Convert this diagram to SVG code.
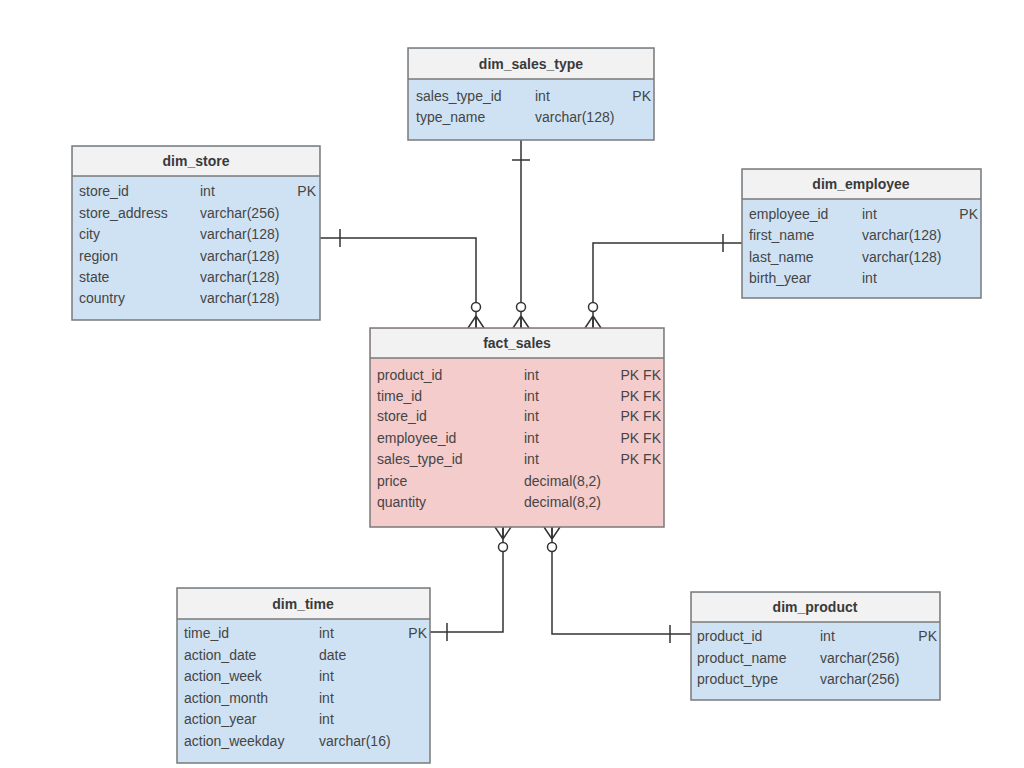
<svg xmlns="http://www.w3.org/2000/svg" width="1024" height="768" viewBox="0 0 1024 768">
<style>
.box{stroke:#7a7a7a;stroke-width:1.5}
.hdr{fill:#f2f2f2}
.dim{fill:#cfe2f3}
.fact{fill:#f4cccc}
.sep{stroke:#7a7a7a;stroke-width:1.5}
.title{font-family:"Liberation Sans",Arial,sans-serif;font-size:14px;font-weight:bold;fill:#3a3a3a;text-anchor:middle}
.t{font-family:"Liberation Sans",Arial,sans-serif;font-size:14px;fill:#454545}
.k{font-family:"Liberation Sans",Arial,sans-serif;font-size:14px;fill:#454545;text-anchor:end}
.c{fill:none;stroke:#333;stroke-width:1.5}
.o{fill:#fff;stroke:#333;stroke-width:1.5}
</style>
<rect width="1024" height="768" fill="#ffffff"/>

<g id="connectors">
  <!-- dim_store -> fact_sales -->
  <polyline class="c" points="320,238 476,238 476,328"/>
  <line class="c" x1="340" y1="229" x2="340" y2="247"/>
  <path class="c" d="M476,316 L468,328 M476,316 L476,328 M476,316 L484,328"/>
  <circle class="o" cx="476" cy="307" r="4.5"/>
  <!-- dim_sales_type -> fact_sales -->
  <line class="c" x1="521" y1="140" x2="521" y2="328"/>
  <line class="c" x1="512" y1="160" x2="530" y2="160"/>
  <path class="c" d="M521,316 L513,328 M521,316 L521,328 M521,316 L529,328"/>
  <circle class="o" cx="521" cy="307" r="4.5"/>
  <!-- dim_employee -> fact_sales -->
  <polyline class="c" points="742,243 593,243 593,328"/>
  <line class="c" x1="723" y1="234" x2="723" y2="252"/>
  <path class="c" d="M593,316 L585,328 M593,316 L593,328 M593,316 L601,328"/>
  <circle class="o" cx="593" cy="307" r="4.5"/>
  <!-- dim_time -> fact_sales -->
  <polyline class="c" points="430,632 503,632 503,527"/>
  <line class="c" x1="447" y1="623" x2="447" y2="641"/>
  <path class="c" d="M503,539 L495,527 M503,539 L503,527 M503,539 L511,527"/>
  <circle class="o" cx="503" cy="547" r="4.5"/>
  <!-- dim_product -> fact_sales -->
  <polyline class="c" points="691,634 552,634 552,527"/>
  <line class="c" x1="670" y1="625" x2="670" y2="643"/>
  <path class="c" d="M552,539 L544,527 M552,539 L552,527 M552,539 L560,527"/>
  <circle class="o" cx="552" cy="547" r="4.5"/>
</g>

<g id="dim_sales_type">
  <rect class="box dim" x="408" y="48" width="246" height="92"/>
  <rect class="hdr" x="409" y="49" width="244" height="30"/>
  <line class="sep" x1="408" y1="79" x2="654" y2="79"/>
  <text class="title" x="531" y="69">dim_sales_type</text>
  <text class="t" x="416" y="101">sales_type_id</text><text class="t" x="535" y="101">int</text><text class="k" x="651" y="101">PK</text>
  <text class="t" x="416" y="122">type_name</text><text class="t" x="535" y="122">varchar(128)</text>
</g>

<g id="dim_store">
  <rect class="box dim" x="72" y="146" width="248" height="174"/>
  <rect class="hdr" x="73" y="147" width="246" height="29"/>
  <line class="sep" x1="72" y1="176" x2="320" y2="176"/>
  <text class="title" x="196" y="166">dim_store</text>
  <text class="t" x="79" y="196">store_id</text><text class="t" x="200" y="196">int</text><text class="k" x="316" y="196">PK</text>
  <text class="t" x="79" y="218">store_address</text><text class="t" x="200" y="218">varchar(256)</text>
  <text class="t" x="79" y="239">city</text><text class="t" x="200" y="239">varchar(128)</text>
  <text class="t" x="79" y="261">region</text><text class="t" x="200" y="261">varchar(128)</text>
  <text class="t" x="79" y="282">state</text><text class="t" x="200" y="282">varchar(128)</text>
  <text class="t" x="79" y="303">country</text><text class="t" x="200" y="303">varchar(128)</text>
</g>

<g id="dim_employee">
  <rect class="box dim" x="742" y="169" width="239" height="129"/>
  <rect class="hdr" x="743" y="170" width="237" height="29"/>
  <line class="sep" x1="742" y1="199" x2="981" y2="199"/>
  <text class="title" x="861" y="189">dim_employee</text>
  <text class="t" x="749" y="219">employee_id</text><text class="t" x="862" y="219">int</text><text class="k" x="978" y="219">PK</text>
  <text class="t" x="749" y="240">first_name</text><text class="t" x="862" y="240">varchar(128)</text>
  <text class="t" x="749" y="262">last_name</text><text class="t" x="862" y="262">varchar(128)</text>
  <text class="t" x="749" y="283">birth_year</text><text class="t" x="862" y="283">int</text>
</g>

<g id="fact_sales">
  <rect class="box fact" x="370" y="328" width="294" height="199"/>
  <rect class="hdr" x="371" y="329" width="292" height="29"/>
  <line class="sep" x1="370" y1="358" x2="664" y2="358"/>
  <text class="title" x="517" y="348">fact_sales</text>
  <text class="t" x="377" y="380">product_id</text><text class="t" x="524" y="380">int</text><text class="k" x="661" y="380">PK FK</text>
  <text class="t" x="377" y="401">time_id</text><text class="t" x="524" y="401">int</text><text class="k" x="661" y="401">PK FK</text>
  <text class="t" x="377" y="421">store_id</text><text class="t" x="524" y="421">int</text><text class="k" x="661" y="421">PK FK</text>
  <text class="t" x="377" y="443">employee_id</text><text class="t" x="524" y="443">int</text><text class="k" x="661" y="443">PK FK</text>
  <text class="t" x="377" y="464">sales_type_id</text><text class="t" x="524" y="464">int</text><text class="k" x="661" y="464">PK FK</text>
  <text class="t" x="377" y="486">price</text><text class="t" x="524" y="486">decimal(8,2)</text>
  <text class="t" x="377" y="507">quantity</text><text class="t" x="524" y="507">decimal(8,2)</text>
</g>

<g id="dim_time">
  <rect class="box dim" x="177" y="588" width="253" height="175"/>
  <rect class="hdr" x="178" y="589" width="251" height="30"/>
  <line class="sep" x1="177" y1="619" x2="430" y2="619"/>
  <text class="title" x="303" y="609">dim_time</text>
  <text class="t" x="184" y="638">time_id</text><text class="t" x="319" y="638">int</text><text class="k" x="427" y="638">PK</text>
  <text class="t" x="184" y="660">action_date</text><text class="t" x="319" y="660">date</text>
  <text class="t" x="184" y="681">action_week</text><text class="t" x="319" y="681">int</text>
  <text class="t" x="184" y="703">action_month</text><text class="t" x="319" y="703">int</text>
  <text class="t" x="184" y="724">action_year</text><text class="t" x="319" y="724">int</text>
  <text class="t" x="184" y="746">action_weekday</text><text class="t" x="319" y="746">varchar(16)</text>
</g>

<g id="dim_product">
  <rect class="box dim" x="691" y="592" width="249" height="108"/>
  <rect class="hdr" x="692" y="593" width="247" height="29"/>
  <line class="sep" x1="691" y1="622" x2="940" y2="622"/>
  <text class="title" x="815" y="612">dim_product</text>
  <text class="t" x="697" y="641">product_id</text><text class="t" x="820" y="641">int</text><text class="k" x="937" y="641">PK</text>
  <text class="t" x="697" y="663">product_name</text><text class="t" x="820" y="663">varchar(256)</text>
  <text class="t" x="697" y="684">product_type</text><text class="t" x="820" y="684">varchar(256)</text>
</g>
</svg>
